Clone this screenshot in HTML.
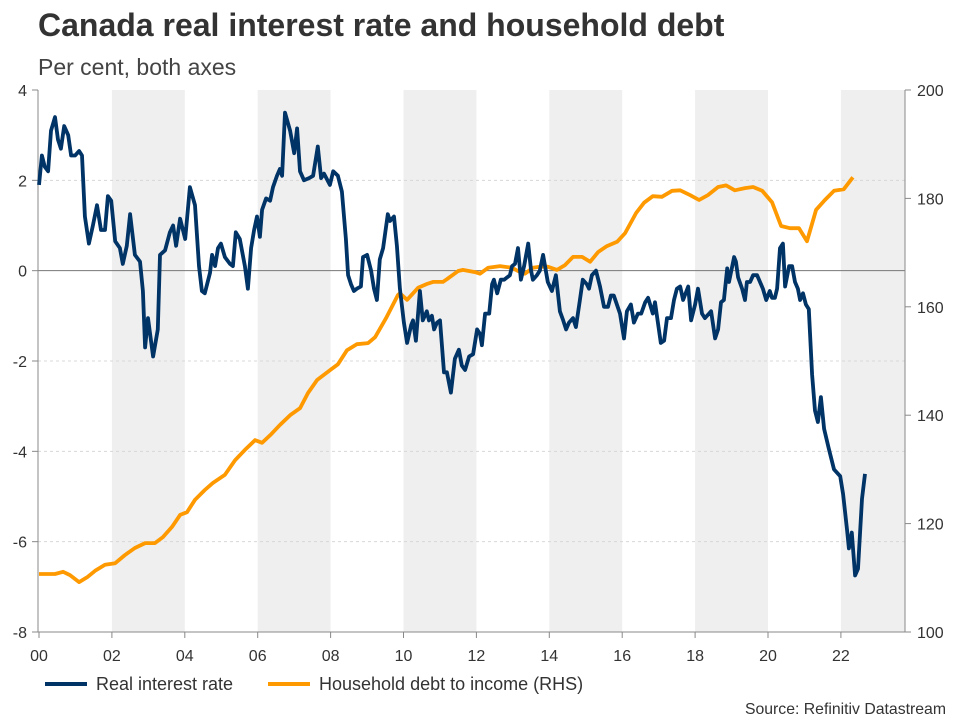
<!DOCTYPE html>
<html><head><meta charset="utf-8"><style>
body{margin:0;background:#fff;font-family:"Liberation Sans",Arial,sans-serif;}
svg text{font-family:"Liberation Sans",Arial,sans-serif;}
</style></head><body>
<svg id="chart" width="960" height="720" xmlns="http://www.w3.org/2000/svg">
<text x="38" y="36" font-size="32" font-weight="bold" fill="#333">Canada real interest rate and household debt</text>
<text x="38" y="75" font-size="23" fill="#444">Per cent, both axes</text>
<g id="bands"></g><g id="grid"></g><g id="axes"></g><g id="series"></g>
<g>
<line x1="45" y1="684" x2="87" y2="684" stroke="#003366" stroke-width="4"/>
<text x="96" y="690" font-size="18" fill="#333">Real interest rate</text>
<line x1="268" y1="684" x2="310" y2="684" stroke="#ff9900" stroke-width="4"/>
<text x="319" y="690" font-size="18" fill="#333">Household debt to income (RHS)</text>
</g>
<text x="946" y="714" font-size="15.8" fill="#333" text-anchor="end">Source: Refinitiv Datastream</text>
</svg>
<script>
const leftTicks=[4,2,0,-2,-4,-6,-8];
const rightTicks=[200,180,160,140,120,100];
const xTickYears=[0,2,4,6,8,10,12,14,16,18,20,22];
const xTickLabels=["00","02","04","06","08","10","12","14","16","18","20","22"];
const bandStarts=[2,6,10,14,18,22];
const rateYears=[0,.08,.16,.25,.33,.44,.52,.60,.69,.80,.88,.99,1.10,1.18,1.26,1.37,1.48,1.59,1.70,1.81,1.89,1.98,2.09,2.22,2.30,2.41,2.50,2.63,2.77,2.85,2.91,2.99,3.13,3.26,3.32,3.46,3.59,3.68,3.76,3.87,4.01,4.14,4.28,4.39,4.47,4.55,4.69,4.75,4.83,4.91,4.99,5.10,5.24,5.32,5.40,5.51,5.65,5.73,5.82,5.90,5.98,6.06,6.12,6.23,6.34,6.42,6.53,6.61,6.67,6.75,6.89,7.00,7.08,7.16,7.27,7.41,7.52,7.65,7.74,7.82,7.98,8.07,8.20,8.31,8.42,8.48,8.56,8.64,8.72,8.83,8.89,9.00,9.11,9.19,9.27,9.35,9.44,9.57,9.63,9.74,9.82,9.90,10.01,10.10,10.21,10.26,10.34,10.45,10.53,10.64,10.70,10.78,10.84,10.92,11.00,11.11,11.19,11.30,11.41,11.52,11.60,11.69,11.80,11.91,12.02,12.10,12.15,12.24,12.35,12.43,12.48,12.57,12.67,12.76,12.92,12.98,13.06,13.14,13.22,13.31,13.42,13.50,13.55,13.66,13.74,13.83,13.96,14.07,14.18,14.29,14.38,14.46,14.54,14.65,14.73,14.84,14.92,15.03,15.09,15.17,15.28,15.39,15.50,15.61,15.69,15.77,15.94,16.05,16.13,16.24,16.32,16.43,16.52,16.63,16.71,16.84,16.90,16.98,17.06,17.15,17.23,17.34,17.42,17.50,17.59,17.67,17.81,17.89,18.00,18.08,18.19,18.27,18.38,18.44,18.55,18.63,18.71,18.79,18.88,18.93,19.07,19.12,19.18,19.29,19.37,19.42,19.51,19.59,19.70,19.86,19.95,20.05,20.11,20.19,20.25,20.33,20.41,20.47,20.58,20.66,20.74,20.82,20.88,20.96,21.04,21.12,21.21,21.29,21.37,21.45,21.54,21.67,21.81,21.98,22.06,22.17,22.22,22.30,22.39,22.47,22.58,22.66];
const rateValues=[1.9,2.55,2.3,2.2,3.1,3.4,2.9,2.7,3.2,3.0,2.55,2.55,2.65,2.55,1.2,0.6,1.0,1.45,0.9,0.9,1.65,1.55,0.65,0.5,0.15,0.55,1.25,0.35,0.2,-0.45,-1.7,-1.05,-1.9,-1.3,0.35,0.45,0.85,1.0,0.55,1.15,0.7,1.85,1.45,0.1,-0.45,-0.5,-0.05,0.35,0.1,0.5,0.6,0.3,0.15,0.1,0.85,0.7,0.1,-0.4,0.5,0.9,1.2,0.75,1.35,1.6,1.55,1.85,2.1,2.25,2.1,3.5,3.1,2.6,3.15,2.2,2.0,2.05,2.1,2.75,2.05,2.15,1.9,2.2,2.1,1.75,0.7,-0.1,-0.3,-0.45,-0.4,-0.35,0.3,0.35,0,-0.4,-0.65,0.25,0.5,1.25,1.1,1.2,0.55,-0.4,-1.15,-1.6,-1.2,-1.1,-1.55,-0.45,-1.1,-0.9,-1.1,-1.0,-1.3,-1.15,-1.1,-2.25,-2.25,-2.7,-1.95,-1.75,-2.1,-2.2,-1.9,-1.85,-1.3,-1.4,-1.65,-0.95,-0.95,-0.3,-0.2,-0.5,-0.2,-0.2,-0.1,0.1,0.15,0.5,-0.2,0.1,0.6,0,-0.2,-0.1,0,0.35,-0.25,-0.45,-0.1,-0.9,-1.1,-1.3,-1.15,-1.05,-1.25,-0.65,-0.2,-0.3,-0.4,-0.1,0,-0.35,-0.8,-0.8,-0.55,-0.55,-0.95,-1.5,-0.9,-0.75,-1.15,-0.95,-0.95,-0.7,-0.6,-0.95,-0.7,-1.15,-1.6,-1.55,-1.05,-1.05,-0.65,-0.4,-0.35,-0.65,-0.35,-1.1,-0.75,-0.4,-0.95,-1.05,-0.95,-0.9,-1.5,-1.3,-0.7,-0.65,0.05,-0.25,0.3,0.2,-0.15,-0.4,-0.65,-0.25,-0.25,-0.1,-0.1,-0.4,-0.65,-0.45,-0.6,-0.6,-0.4,0.5,0.6,-0.35,0.1,0.1,-0.25,-0.4,-0.65,-0.5,-0.75,-0.85,-2.3,-3.1,-3.35,-2.8,-3.5,-3.95,-4.4,-4.55,-4.95,-5.75,-6.15,-5.8,-6.75,-6.6,-5.05,-4.5];
const debtYears=[0,.44,.66,.85,1.10,1.32,1.54,1.81,2.09,2.36,2.63,2.91,3.18,3.40,3.65,3.87,4.06,4.28,4.55,4.77,5.10,5.38,5.65,5.93,6.12,6.34,6.61,6.89,7.16,7.38,7.63,7.98,8.20,8.45,8.72,9.03,9.22,9.52,9.85,9.90,10.10,10.40,10.64,10.81,11.08,11.19,11.50,11.63,11.96,12.10,12.32,12.65,12.98,13.14,13.33,13.55,13.74,13.96,14.21,14.43,14.65,14.90,15.12,15.34,15.58,15.86,16.08,16.38,16.60,16.84,17.09,17.37,17.59,17.86,18.11,18.35,18.63,18.85,19.09,19.37,19.59,19.84,20.11,20.36,20.60,20.85,21.07,21.32,21.56,21.81,22.08,22.33];
const debtValues=[110.7,110.7,111.1,110.5,109.2,110.1,111.3,112.4,112.7,114.2,115.5,116.4,116.4,117.5,119.4,121.6,122.1,124.4,126.2,127.5,129.0,131.7,133.6,135.4,134.9,136.3,138.2,140.0,141.3,144.1,146.5,148.3,149.4,152.0,153.1,153.3,154.4,157.9,162.2,162.5,161.3,163.5,164.2,164.6,164.6,165.1,166.6,166.8,166.4,166.1,167.2,167.5,167.2,166.6,166.1,167.2,167.4,167.4,166.8,167.7,169.2,169.2,168.3,170.1,171.2,172.0,173.6,177.3,179.2,180.4,180.3,181.4,181.5,180.6,179.7,180.6,182.1,182.4,181.5,181.9,182.1,181.4,179.3,174.9,174.5,174.5,172.1,177.9,179.7,181.4,181.7,183.9];

const NS="http://www.w3.org/2000/svg";
const X0=38,X1=905,Y0=90,Y1=632;
const xs=y=>39+y*36.45;
const yl=v=>Y0+(4-v)*(Y1-Y0)/12;
const yr=v=>Y0+(200-v)*(Y1-Y0)/100;
function mk(tag,attrs,parent){const e=document.createElementNS(NS,tag);for(const k in attrs)e.setAttribute(k,attrs[k]);parent.appendChild(e);return e;}
const bands=document.getElementById('bands'),grid=document.getElementById('grid'),axes=document.getElementById('axes'),series=document.getElementById('series');
bandStarts.forEach(b=>{const x1=xs(b),x2=Math.min(xs(b+2),X1);
const r=mk('rect',{x:x1,y:Y0,width:x2-x1,height:Y1-Y0,fill:'#efefef'},bands);

});
leftTicks.forEach(v=>{const y=yl(v);
if(v!==0&&v!==4&&v!==-8){const g=mk('line',{x1:X0,x2:X1,y1:y,y2:y,stroke:'#d8d8d8','stroke-dasharray':'3,3'},grid);

}
mk('line',{x1:X0-6,x2:X0,y1:y,y2:y,stroke:'#888'},axes);
const t=mk('text',{x:27,y:y+6,'font-size':16,fill:'#333','text-anchor':'end'},axes);t.textContent=v;

});
rightTicks.forEach(v=>{const y=yr(v);
mk('line',{x1:X1,x2:X1+6,y1:y,y2:y,stroke:'#888'},axes);
const t=mk('text',{x:917,y:y+6,'font-size':16,fill:'#333'},axes);t.textContent=v;

});
const z=mk('line',{x1:X0,x2:X1,y1:yl(0),y2:yl(0),stroke:'#777','stroke-width':1},axes);


mk('line',{x1:X0,x2:X0,y1:Y0,y2:Y1,stroke:'#888'},axes);
mk('line',{x1:X1,x2:X1,y1:Y0,y2:Y1,stroke:'#888'},axes);
mk('line',{x1:X0,x2:X1,y1:Y1,y2:Y1,stroke:'#888'},axes);
xTickYears.forEach((yv,i)=>{const x=xs(yv);
mk('line',{x1:x,x2:x,y1:Y1,y2:Y1+6,stroke:'#888'},axes);
const t=mk('text',{x:x,y:661,'font-size':16,fill:'#333','text-anchor':'middle'},axes);t.textContent=xTickLabels[i];

});
const dp=debtYears.map((y,i)=>xs(y).toFixed(1)+','+yr(debtValues[i]).toFixed(1)).join(' ');
const d=mk('polyline',{points:dp,fill:'none',stroke:'#ff9900','stroke-width':3.8,'stroke-linejoin':'round'},series);


const rp=rateYears.map((y,i)=>xs(y).toFixed(1)+','+yl(rateValues[i]).toFixed(1)).join(' ');
const r=mk('polyline',{points:rp,fill:'none',stroke:'#003366','stroke-width':3.8,'stroke-linejoin':'round'},series);


</script>
</body></html>
